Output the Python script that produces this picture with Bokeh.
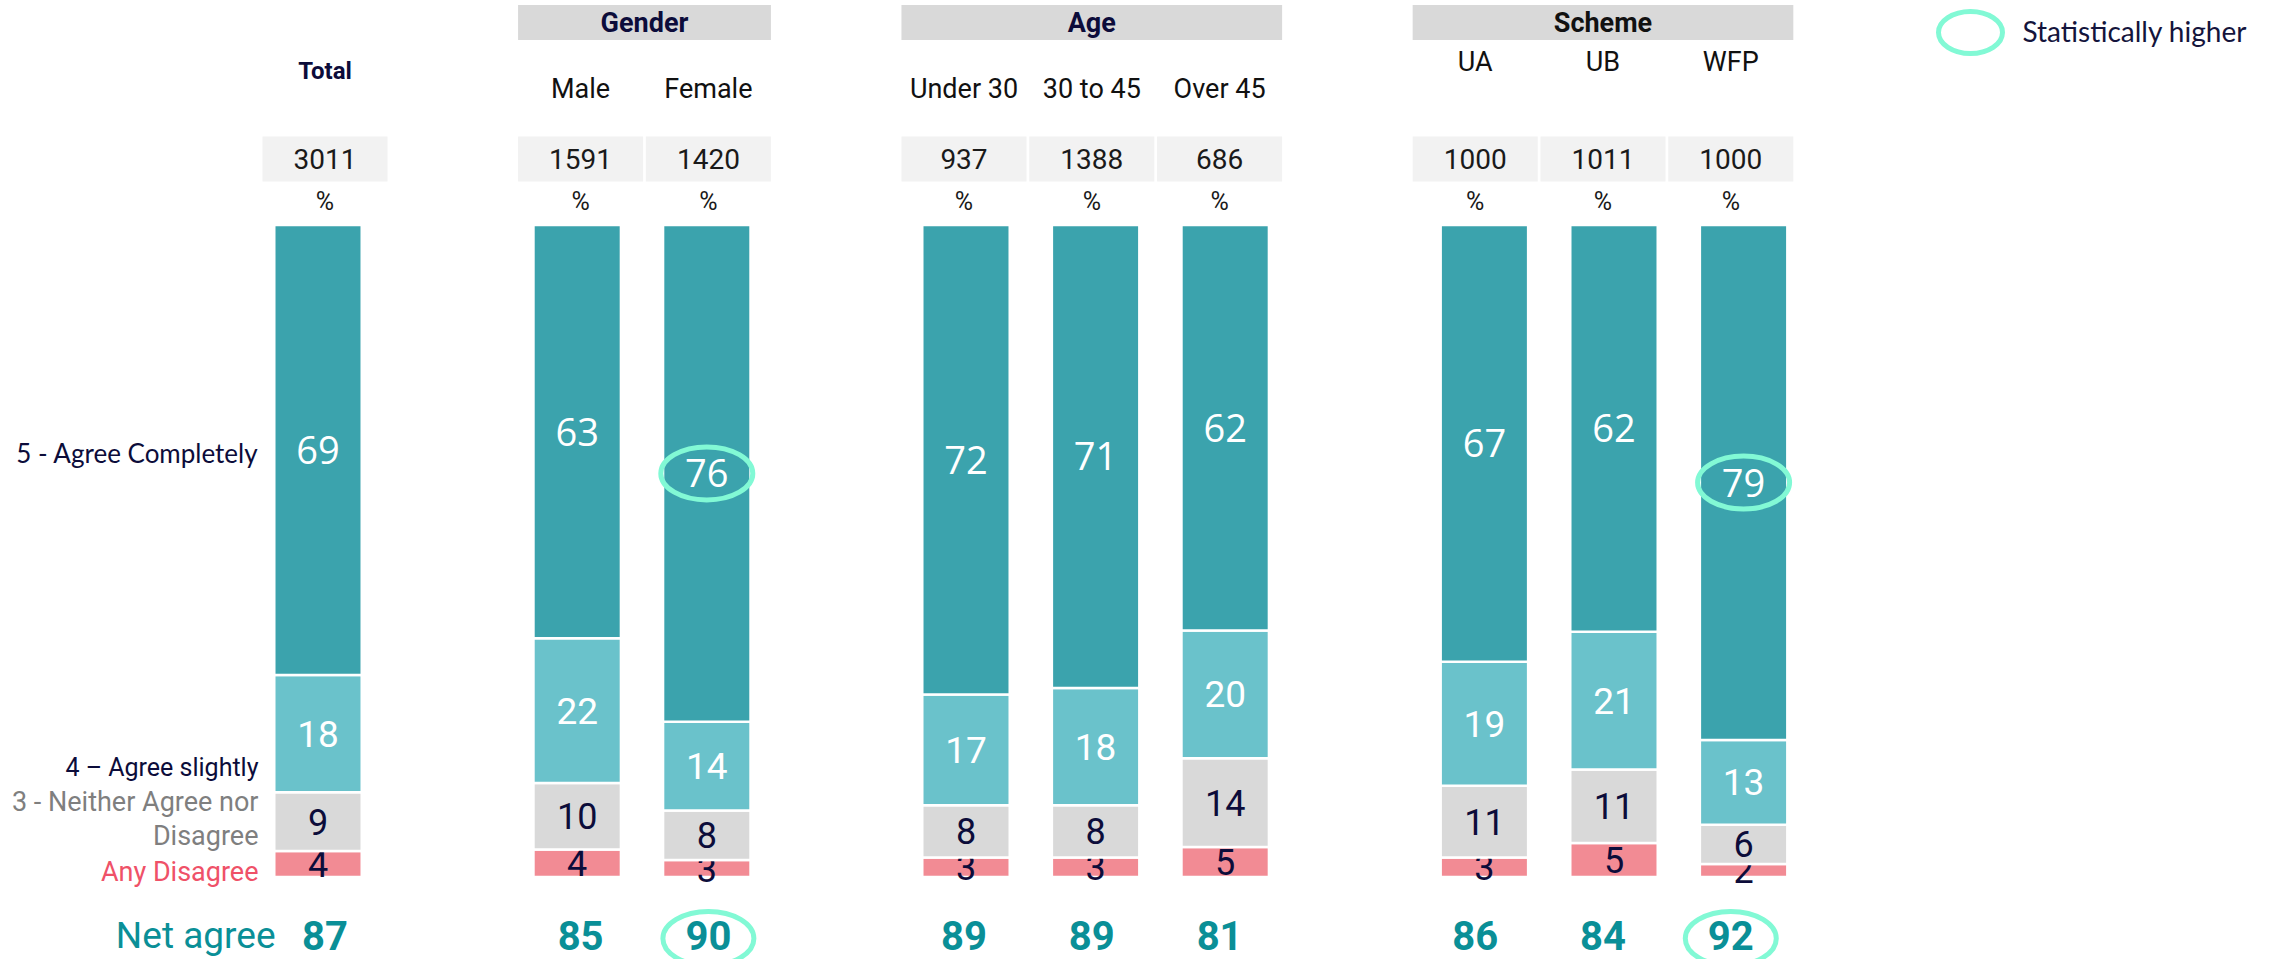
from bokeh.plotting import figure
from bokeh.models import Range1d, ColumnDataSource
from bokeh.core.properties import value
from bokeh.embed import file_html
from bokeh.resources import INLINE

# ---------------- data ----------------
sections = ["", "Gender", "Age", "Scheme"]
section_groups = [["Total"], ["Male", "Female"], ["Under 30", "30 to 45", "Over 45"], ["UA", "UB", "WFP"]]
bases = [3011, 1591, 1420, 937, 1388, 686, 1000, 1011, 1000]
any_disagree = [4, 4.2, 2.6, 3, 3, 4.6, 3, 5.2, 2]
neither = [9, 10.2, 7.6, 8, 8, 13.6, 11, 11.3, 6]
agree_slightly = [18, 22.2, 13.6, 17, 18, 19.6, 19, 21.1, 13]
agree_completely = [69, 63.4, 76.2, 72, 71, 62.2, 67, 62.4, 79]
net_agree = [87, 85, 90, 89, 89, 81, 86, 84, 92]
higher_completely = [False, False, True, False, False, False, False, False, True]
higher_net = [False, False, True, False, False, False, False, False, True]
series_names = ["Any Disagree", "3 - Neither Agree nor Disagree", "4 \u2013 Agree slightly", "5 - Agree Completely"]

# ---------------- layout ----------------
W, H, OFF = 2271, 959, 0
PXX, X0 = 129.6, 317.5       # reference px per slot, ref x of slot 0
PXY, Y0 = 6.52, 876.5        # reference px per percent, ref y of 0%

def xr(px):
    return (px - X0) / PXX

def yr(py):
    return (Y0 - py) / PXY

NAVY = "#0C0C3A"
DARK = "#3BA3AD"
LIGHT = "#6AC2CB"
GREY = "#D9D9D9"
PINK = "#F28B94"
TEAL_TXT = "#0A8F97"
RING = "#82F9D5"
NARROW = "Roboto"
HUMAN = "Lato"

groups = [g for gl in section_groups for g in gl]
slots = []
s = 0
for gl in section_groups:
    for g in gl:
        slots.append(s)
        s += 1
    s += 1
box_x = [0.054 + 0.9861 * v for v in slots]
BOXW = 0.965

p = figure(width=W, height=H, output_backend="svg", toolbar_location=None,
           x_range=Range1d((OFF - X0) / PXX, (OFF + W - X0) / PXX),
           y_range=Range1d(yr(OFF + H), yr(OFF)), min_border=0)
p.axis.visible = False
p.grid.visible = False
p.outline_line_color = None
p.background_fill_color = "white"
p.border_fill_color = "white"

# stacked bars
stack = [any_disagree, neither, agree_slightly, agree_completely]
colors = [PINK, GREY, LIGHT, DARK]
label_colors = [NAVY, NAVY, "white", "white"]
label_fonts = [NARROW, NARROW, NARROW, "Open Sans"]
label_sizes = ["36px", "36px", "37px", "38px"]
bottoms = [0.0] * len(groups)
for vals, col, lcol, lfont, lsize in zip(stack, colors, label_colors, label_fonts, label_sizes):
    tops = [b + v for b, v in zip(bottoms, vals)]
    src = ColumnDataSource(dict(x=slots, bottom=bottoms, top=tops,
                                mid=[(b + t) / 2 for b, t in zip(bottoms, tops)],
                                lab=[str(round(v)) for v in vals]))
    p.vbar(x="x", bottom="bottom", top="top", width=0.675, source=src,
           fill_color=col, line_color="white", line_width=2.5)
    p.text(x="x", y="mid", text="lab", source=src, text_color=lcol,
           text_font=value(lfont), text_font_size=lsize,
           text_align="center", text_baseline="middle")
    bottoms = tops

# highlight rings on agree completely
top_mid = [b - v / 2 for b, v in zip(bottoms, agree_completely)]
hx = [x for x, h in zip(slots, higher_completely) if h]
hy = [y for y, h in zip(top_mid, higher_completely) if h]
p.ellipse(x=hx, y=hy, width=92, height=53, width_units="screen", height_units="screen",
          fill_color=None, line_color=RING, line_width=5)

# net agree row
ny = yr(935)
p.text(x=box_x, y=[ny] * len(groups), text=[str(v) for v in net_agree], text_color=TEAL_TXT,
       text_font=value(NARROW), text_font_style="bold", text_font_size="40px",
       text_align="center", text_baseline="middle")
nx = [x for x, h in zip(box_x, higher_net) if h]
p.ellipse(x=nx, y=[yr(938)] * len(nx), width=91, height=54, width_units="screen", height_units="screen",
          fill_color=None, line_color=RING, line_width=5)
p.text(x=[xr(275)], y=[ny], text=["Net agree"], text_color=TEAL_TXT, text_font=value(NARROW),
       text_font_size="37px", text_align="right", text_baseline="middle")

# base boxes and %
p.rect(x=box_x, y=[yr(158.5)] * len(groups), width=BOXW, height=45 / PXY,
       fill_color="#F2F2F2", line_color=None)
p.text(x=box_x, y=[yr(158.5)] * len(groups), text=[str(b) for b in bases], text_color="#1A1A1A",
       text_font=value(NARROW), text_font_size="28px", text_align="center", text_baseline="middle")
p.text(x=box_x, y=[yr(201)] * len(groups), text=["%"] * len(groups), text_color="#1A1A1A",
       text_font=value(NARROW), text_font_size="25px", text_align="center", text_baseline="middle")

# group headers
i = 0
for sec, gl in zip(sections, section_groups):
    xs = box_x[i:i + len(gl)]
    if sec:
        cx = (xs[0] + xs[-1]) / 2
        wdt = xs[-1] - xs[0] + BOXW
        p.rect(x=[cx], y=[yr(22)], width=wdt, height=35 / PXY, fill_color=GREY, line_color=None)
        p.text(x=[cx], y=[yr(22)], text=[sec], text_color=NAVY if sec != "Scheme" else "#111111",
               text_font=value(NARROW), text_font_style="bold", text_font_size="27px",
               text_align="center", text_baseline="middle")
        ly = yr(61) if sec == "Scheme" else yr(88)
        p.text(x=xs, y=[ly] * len(gl), text=gl, text_color="#111111", text_font=value(NARROW),
               text_font_size="27px", text_align="center", text_baseline="middle")
    else:
        p.text(x=xs, y=[yr(70)], text=gl, text_color=NAVY, text_font=value(NARROW),
               text_font_style="bold", text_font_size="24px", text_align="center", text_baseline="middle")
    i += len(gl)

# left series labels
lx = xr(258)
p.text(x=[lx], y=[yr(452)], text=[series_names[3]], text_color=NAVY, text_font=value(HUMAN),
       text_font_size="26px", text_align="right", text_baseline="middle")
p.text(x=[lx], y=[yr(767)], text=[series_names[2]], text_color=NAVY, text_font=value(NARROW),
       text_font_size="25px", text_align="right", text_baseline="middle")
p.text(x=[lx, lx], y=[yr(801), yr(835)], text=["3 - Neither Agree nor", "Disagree"], text_color="#7F7F7F",
       text_font=value(NARROW), text_font_size="27px", text_align="right", text_baseline="middle")
p.text(x=[lx], y=[yr(871)], text=[series_names[0]], text_color="#EF5168", text_font=value(NARROW),
       text_font_size="27px", text_align="right", text_baseline="middle")

# legend
p.ellipse(x=[xr(1970)], y=[yr(32)], width=64, height=42, width_units="screen", height_units="screen",
          fill_color=None, line_color=RING, line_width=5)
p.text(x=[xr(2022)], y=[yr(30)], text=["Statistically higher"], text_color="#14143C",
       text_font=value(HUMAN), text_font_size="28px", text_align="left", text_baseline="middle")

open("out.html", "w").write(file_html(p, INLINE))
